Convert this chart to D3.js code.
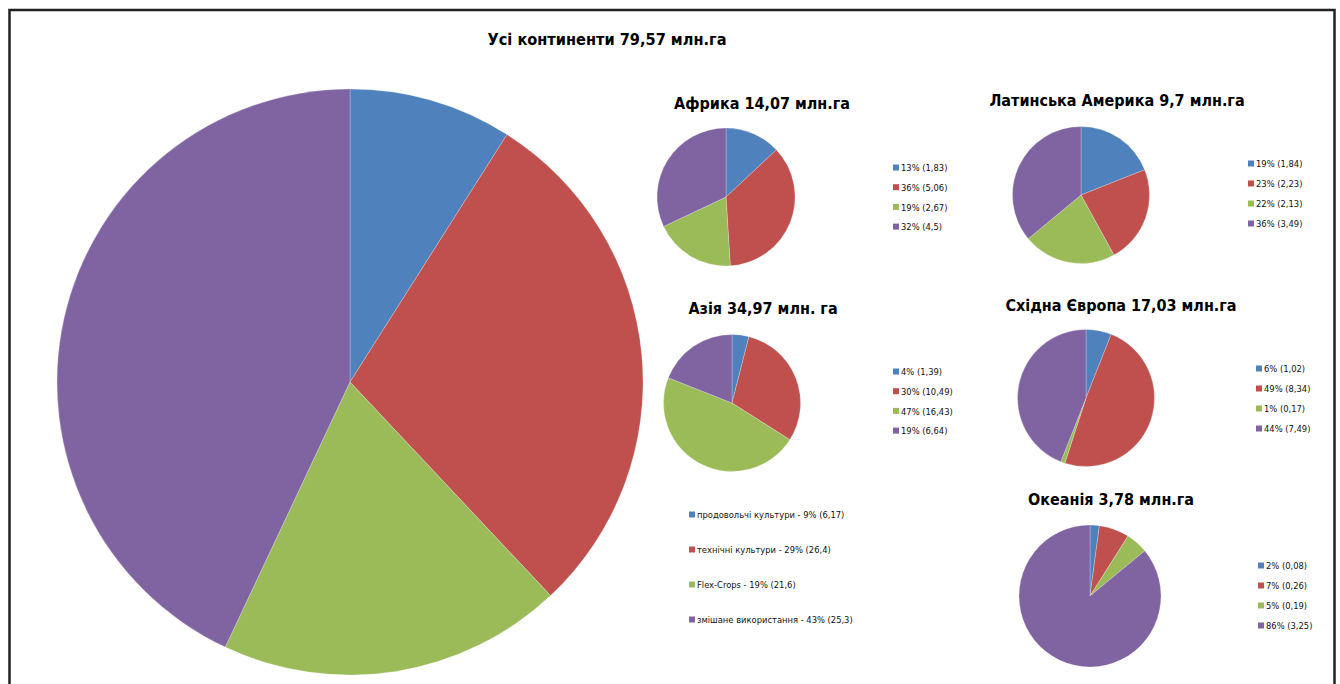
<!DOCTYPE html>
<html>
<head>
<meta charset="utf-8">
<script src="https://cdn.jsdelivr.net/npm/d3@7"></script>
<style>
  html, body { margin: 0; padding: 0; background: #fff; }
  svg { display: block; }
  .title { font-family: "DejaVu Sans Condensed", "Liberation Sans Narrow", sans-serif; font-weight: bold; fill: #000; }
  .leg { font-family: "DejaVu Sans Condensed", "Liberation Sans Narrow", sans-serif; fill: #111; }
</style>
</head>
<body>
<svg id="chart" width="1340" height="684"></svg>
<script>
// ---- Data ----
const categories = ["продовольчі культури", "технічні культури", "Flex-Crops", "змішане використання"];
const colors = ["#4F81BD", "#C0504D", "#9BBB59", "#8064A2"];

const regionTitles = ["Усі континенти 79,57 млн.га", "Африка 14,07 млн.га", "Латинська Америка 9,7 млн.га",
  "Азія 34,97 млн. га", "Східна Європа 17,03 млн.га", "Океанія 3,78 млн.га"];

const allPercent = [9, 29, 19, 43];
const allValues = ["6,17", "26,4", "21,6", "25,3"];

const africaValues = [1.83, 5.06, 2.67, 4.5];
const africaPercent = [13, 36, 19, 32];

const latamValues = [1.84, 2.23, 2.13, 3.49];
const latamPercent = [19, 23, 22, 36];

const asiaValues = [1.39, 10.49, 16.43, 6.64];
const asiaPercent = [4, 30, 47, 19];

const eeuropeValues = [1.02, 8.34, 0.17, 7.49];
const eeuropePercent = [6, 49, 1, 44];

const oceaniaValues = [0.08, 0.26, 0.19, 3.25];
const oceaniaPercent = [2, 7, 5, 86];

// ---- Layout ----
const svg = d3.select("#chart");

svg.append("rect").attr("x", 9.5).attr("y", 10).attr("width", 1325).attr("height", 700)
  .attr("fill", "none").attr("stroke", "#222").attr("stroke-width", 2.5);

const fmt = v => String(v).replace(".", ",");

const pies = [
  { title: regionTitles[0], slices: allPercent, labels: allPercent.map((p, i) => `${categories[i]} - ${p}% (${allValues[i]})`),
    cx: 350, cy: 382, r: 293, tx: 607, ty: 45, tsize: 16.2,
    lx: 689, ly: 515, lstep: 35, lsize: 9.3 },
  { title: regionTitles[1], slices: africaValues, labels: africaValues.map((v, i) => `${africaPercent[i]}% (${fmt(v)})`),
    cx: 726, cy: 197, r: 69, tx: 762, ty: 109, tsize: 16,
    lx: 893, ly: 168, lstep: 19.7, lsize: 9.3 },
  { title: regionTitles[2], slices: latamValues, labels: latamValues.map((v, i) => `${latamPercent[i]}% (${fmt(v)})`),
    cx: 1081, cy: 195, r: 68.5, tx: 1117, ty: 106, tsize: 16,
    lx: 1248, ly: 164, lstep: 20, lsize: 9.3 },
  { title: regionTitles[3], slices: asiaValues, labels: asiaValues.map((v, i) => `${asiaPercent[i]}% (${fmt(v)})`),
    cx: 732, cy: 403, r: 68.5, tx: 763, ty: 314, tsize: 16,
    lx: 893, ly: 372, lstep: 19.7, lsize: 9.3 },
  { title: regionTitles[4], slices: eeuropeValues, labels: eeuropeValues.map((v, i) => `${eeuropePercent[i]}% (${fmt(v)})`),
    cx: 1086, cy: 398, r: 68.5, tx: 1121, ty: 311, tsize: 16,
    lx: 1256, ly: 369, lstep: 20, lsize: 9.3 },
  { title: regionTitles[5], slices: oceaniaValues, labels: oceaniaValues.map((v, i) => `${oceaniaPercent[i]}% (${fmt(v)})`),
    cx: 1090, cy: 596, r: 71, tx: 1111, ty: 505, tsize: 16,
    lx: 1258, ly: 566, lstep: 20, lsize: 9.3 }
];

const pie = d3.pie().sort(null).value(d => d);

pies.forEach(p => {
  const g = svg.append("g").attr("transform", `translate(${p.cx},${p.cy})`);
  const arc = d3.arc().innerRadius(0).outerRadius(p.r);
  g.selectAll("path").data(pie(p.slices)).join("path")
    .attr("d", arc)
    .attr("fill", (d, i) => colors[i])
    .attr("stroke", "#fff").attr("stroke-width", 0.4).attr("stroke-opacity", 0.6);

  svg.append("text").attr("class", "title")
    .attr("x", p.tx).attr("y", p.ty).attr("text-anchor", "middle")
    .attr("font-size", p.tsize).text(p.title);

  const lg = svg.append("g").attr("transform", `translate(${p.lx},${p.ly})`);
  const items = lg.selectAll("g").data(p.labels).join("g")
    .attr("transform", (d, i) => `translate(0,${i * p.lstep})`);
  items.append("rect").attr("x", 0).attr("y", -3.5).attr("width", 6).attr("height", 6)
    .attr("fill", (d, i) => colors[i]);
  items.append("text").attr("class", "leg").attr("x", 8).attr("y", 0)
    .attr("dy", "0.35em").attr("font-size", p.lsize).text(d => d);
});
</script>
</body>
</html>
